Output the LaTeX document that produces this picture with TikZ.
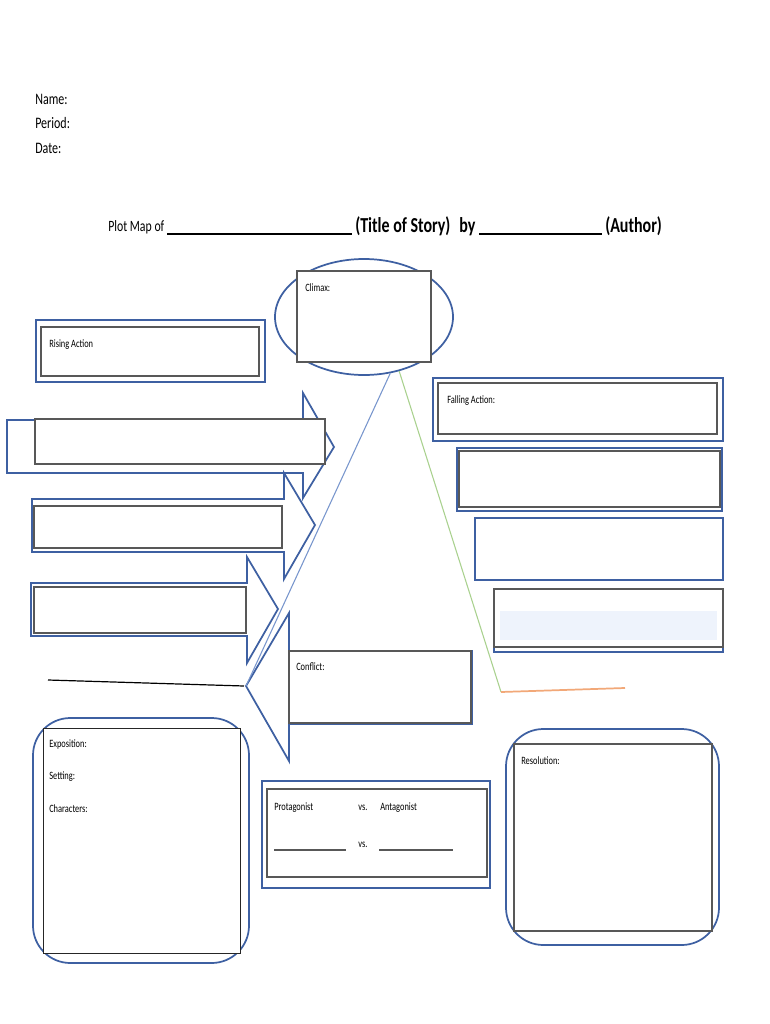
\documentclass[tikz,border=0pt]{standalone}
\usepackage{fontspec}
\setmainfont{Carlito}[FakeStretch=0.75]
\usetikzlibrary{shapes.geometric}
\definecolor{bl}{RGB}{62,96,162}
\definecolor{gr}{RGB}{88,88,88}
\definecolor{thinbl}{RGB}{120,150,205}
\definecolor{lgreen}{RGB}{169,209,142}
\definecolor{orng}{RGB}{242,168,120}
\definecolor{paleblue}{RGB}{238,243,252}
\tikzset{
  blueline/.style={draw=bl,line width=1.3pt},
  graybox/.style={draw=gr,line width=1.3pt,fill=white},
  lbl/.style={anchor=base west,inner sep=0pt,font=\fontsize{8.4}{10}\selectfont},
  head/.style={anchor=base west,inner sep=0pt,font=\fontsize{12}{14}\selectfont},
  ttl/.style={anchor=base west,inner sep=0pt,font=\fontsize{16}{18}\selectfont\bfseries},
}
\begin{document}
\begin{tikzpicture}[x=0.75pt,y=-0.75pt]
\useasboundingbox[fill=white] (0,0) rectangle (770,1024);

% header
\node[head] (name) at (35,104) {Name:};
\node[head] (period) at (35,128) {Period:};
\node[head] (date) at (35,153) {Date:};

% title
\node[anchor=base west,inner sep=0pt,font=\fontsize{11.8}{14}\selectfont] (plotmap) at (108,231) {Plot Map of};
\draw[line width=1.5pt] (167,234) -- (352,234);
\node[ttl] (titlestory) at (355,232) {(Title of Story)};
\node[ttl] (by) at (459,232) {by};
\draw[line width=1.5pt] (479,234) -- (602,234);
\node[ttl] (author) at (605,232) {(Author)};

% climax
\node[ellipse,draw=bl,line width=1.3pt,minimum width=133.5pt,minimum height=87pt,inner sep=0pt] (climaxEll) at (364,317) {};
\draw[graybox] (297,271) rectangle (431,362);
\node[lbl] (climax) at (305,291) {Climax:};

% rising action
\draw[blueline] (36,320) rectangle (265,382);
\draw[graybox] (41,327) rectangle (259,376);
\node[lbl] (rising) at (49,347) {Rising Action};

% arrows
\draw[blueline,line join=miter] (7,420) -- (303,420) -- (303,393) -- (334,447) -- (303,498) -- (303,473) -- (7,473) -- cycle;
\draw[graybox] (35,419) rectangle (325,464);
\draw[blueline,line join=miter] (32,499) -- (284,499) -- (284,473) -- (315,525) -- (284,579) -- (284,552) -- (32,552) -- cycle;
\draw[graybox] (34,506) rectangle (282,548);
\draw[blueline,line join=miter] (31,583) -- (247,583) -- (247,557) -- (278,609) -- (247,663) -- (247,636) -- (31,636) -- cycle;
\draw[graybox] (34,587) rectangle (246,633);

% conflict arrow
\draw[blueline,line join=miter] (472,651) -- (289,651) -- (289,613) -- (246,686) -- (289,761) -- (289,724) -- (472,724) -- cycle;
\coordinate (conflictTip) at (246,686);
\draw[graybox] (289,651) rectangle (471,723);
\node[lbl] (conflict) at (296,670) {Conflict:};
\coordinate (blankStart) at (48,680);
\draw[line width=0.9pt] (blankStart) -- ([xshift=-1.5pt]conflictTip);

% falling action
\draw[blueline] (433,378) rectangle (723,441);
\draw[graybox] (438,383) rectangle (717,434);
\node[lbl] (falling) at (447,403) {Falling Action:};
\draw[blueline] (457,448) rectangle (722,511);
\draw[graybox] (459,451) rectangle (720,507);
\draw[blueline,fill=white] (475,518) rectangle (723,580);
\draw[blueline] (494,592) rectangle (723,652);
\draw[graybox] (494,589) rectangle (723,647);
\fill[paleblue] (500,611) rectangle (717,640);

% connectors from climax
\draw[thinbl,line width=0.8pt] (climaxEll.-65) -- (conflictTip);
\coordinate (greenEnd) at (501,692);
\draw[lgreen,line width=0.8pt] (climaxEll.-57) -- (greenEnd);
\coordinate (orangeEnd) at (625,688);
\draw[orng,line width=1.3pt] (greenEnd) -- (orangeEnd);

% exposition
\draw[blueline,rounded corners=28] (33,718) rectangle (249,963);
\draw[draw=black!85,line width=0.6pt,fill=white] (43,728) rectangle (240,953);
\node[lbl] (expo) at (49,747) {Exposition:};
\node[lbl] (setting) at (49,779) {Setting:};
\node[lbl] (chars) at (49,812) {Characters:};

% protagonist
\draw[blueline] (262,781) rectangle (490,888);
\draw[graybox] (267,789) rectangle (487,877);
\node[lbl] (prot) at (274,810) {Protagonist};
\node[lbl] (vs1) at (358,810) {vs.};
\node[lbl] (ant) at (380,810) {Antagonist};
\node[lbl] (vs2) at (358,847) {vs.};
\draw[gr,line width=1pt] (274,850) -- (346,850);
\draw[gr,line width=1pt] (379,850) -- (453,850);

% resolution
\draw[blueline,rounded corners=28] (506,729) rectangle (719,945);
\draw[graybox] (514,744) rectangle (712,931);
\node[lbl] (resol) at (521,764) {Resolution:};
\end{tikzpicture}
\end{document}
